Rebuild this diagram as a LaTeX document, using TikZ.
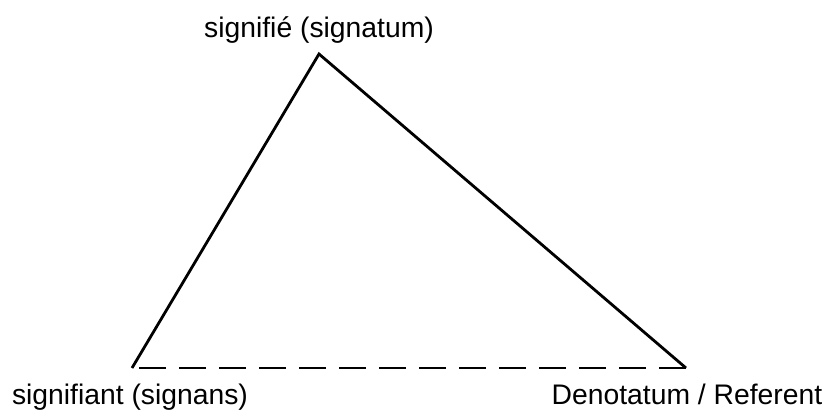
\documentclass[tikz,border=0pt]{standalone}
\usepackage{fontspec}
\setmainfont{Liberation Sans}
\begin{document}
\begin{tikzpicture}[x=1pt,y=-1pt,
  lbl/.style={font=\fontsize{28.3}{31}\selectfont, inner sep=0pt, anchor=base},
  edge/.style={line width=2.8pt, line join=miter}]
\useasboundingbox (0,0) rectangle (830,410);
\coordinate (T) at (319,54);
\coordinate (L) at (132,368);
\coordinate (R) at (686,368);
\draw[edge] (L) -- (T) -- (R);
\draw[line width=2.8pt, dash pattern=on 27pt off 13pt] (R) -- (L);
\node[lbl] (tl) at (319,37) {signifié (signatum)};
\node[lbl] (ll) at (130,404) {signifiant (signans)};
\node[lbl] (rl) at (687,404) {Denotatum / Referent};
\end{tikzpicture}
\end{document}
